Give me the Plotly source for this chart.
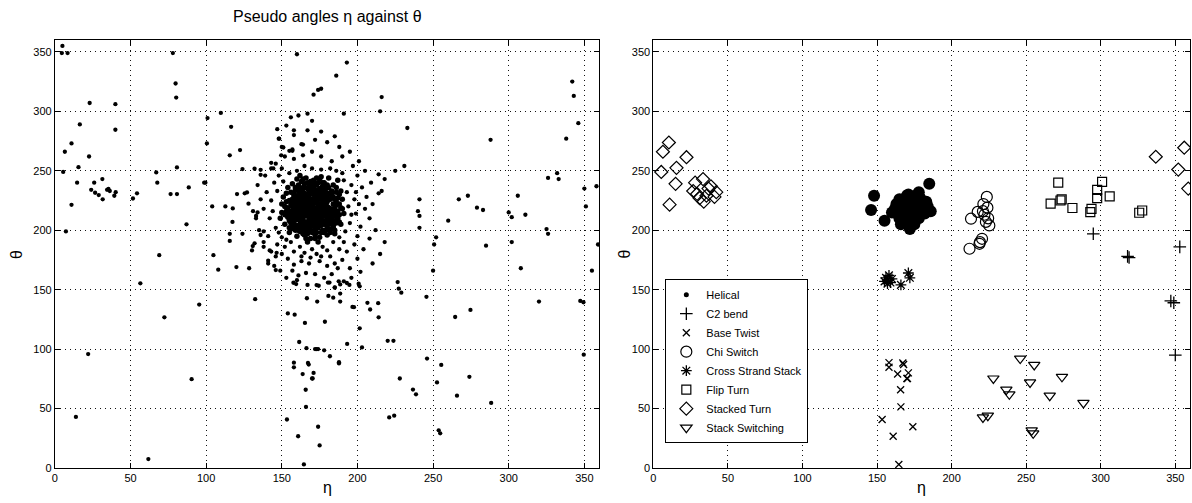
import plotly.graph_objects as go

# ---------------- data: left panel (all residues) ----------------
outer_points = [
    (5,355),(4.6,349),(8.4,349),(23,307),(40,306),(16.5,289),(40,284.5),(11,273),(6.6,266),(22.6,262),
    (15.6,253),(5.5,249),(14.7,240),(26,240),(31.4,243),(24,234),(26.6,231.5),(29,229.6),(31.6,226),
    (34.5,234),(35.4,234.8),(36.3,233),(40.2,232),(39.3,229),(11,221.4),(7.3,199),(51.6,226.7),(54.3,231),
    (67,248.6),(67.7,240),(76.5,230.4),(80.7,230.4),(78,349),(79.8,323.4),(80.2,311.6),(80.7,252.8),
    (87,205),(69,179),(88.5,236),(98.7,240),(99.5,240),(100.9,294.3),(100.5,273),(109.7,298.7),
    (116.5,287),(115.6,263),(122.4,267.4),(104,220),(112.7,220),(117.6,218.3),(117.4,207),(115.6,197),
    (115.6,191),(104.8,179),(108,166.8),(120,169),(128.4,168),(124,197),(124,251.4),(120.4,230.4),
    (125.5,231),(127,231.8),(128,222.3),(132,251.7),(136,250.8),(136,246.6),(131,216),(134,215),(133,210),
    (138,199),(136,196),(130.8,186.7),(130.3,183),(132,189),(138,186),(141,174.4),(143,182),(146.6,181),
    (146,166.5),(160,348),(161,296.5),(147,285),(148,277),(143,256.7),(144.4,252),(148.3,277),(149.6,263),
    (151,269.6),(155,266.8),(157,266.8),(163,272.4),
    (56.5,155.3),(13.9,43),(22,95.8),(61.8,7.5),(72.4,126.7),(90.4,74.7),(95.4,137.5),(132.4,142),
    (153.4,40.8),(154,130),(158.5,129),(157.7,155.8),(159.5,154.7),(158,88.6),(158,84.7),(160.8,26.7),
    (161.5,106),(163.8,79),(164.6,3),(165.3,122),(165.8,65.8),(166,51.4),(166.3,100.8),(166.6,142.8),
    (167,154),(167.3,88.3),(167.8,87),(170,75.3),(170.4,75.3),(171,80),(172,100),(173,100),(174,100),
    (173,153.9),(174.4,153.3),(173.4,140),(174,34.7),(175,19),(178,99),(178.5,123),(180.5,156),(181.5,156),
    (180.8,144.7),(181.8,94),(184,143.3),(185,151.7),(187.8,89),(187.8,88),(187.6,157),(188.6,154.4),
    (188.6,146.7),(188.6,140),(193,155.6),(194.7,154),(193.2,104.4),(196.7,135.5),(197.7,135.3),
    (200.8,155),(201.5,152.8),(201.5,117.5),(203,101.4),(206.6,138.9),(208.4,133.3),(213.7,138.6),
    (214,126.7),(220,107),(221,42.5),(223.8,107),(224.3,44),(226.6,156.4),(227.3,150.8),(229,147.5),
    (228,75.3),(236.7,66),(238.7,62),(245.6,144),(246,92),(252.6,72),(253.7,31.7),(254.7,29.2),
    (255.4,86.7),(264.6,127),(265.8,60.8),(274,76.7),(274.7,133),(288.4,54.7),(347.3,140.5),
    (349.4,139.4),(349.6,95.3),
    (193,341),(191,298),(174,318),(171,314),(167,298),(216,312),(233,286),(250,166),(241,202),
    (250.7,188),(252,194),(260,208),(240,216),(241,212),(241,226),(267,226),(288,276),(285,187),
    (302,190),(308,168),(320,140),(325,201),(326,197),(333,243),(338,277),(343,313),(342,325),
    (346,290),(350,235),(358,237),(355,166),(332,248),(351,220),(359,188),(306,229),(300,215),
    (302,211),(283,217),(273,229),(279,219),(311,213),(326,244),(214,247),(218,243),(216,233),
    (225,250),(231,254),(156,295),(158,284),(186,330),(176,319),(215,300),
]

cluster_core = [
    (168,215),(170,218),(165,212),(172,210),(163,220),(175,216),(160,214),(167,224),(171,206),(178,220),
    (162,208),(166,230),(174,228),(158,222),(180,212),(169,200),(176,204),(164,236),(173,238),(182,226),
    (156,216),(161,226),(179,232),(185,218),(155,208),(170,232),(177,212),(183,206),(159,200),(166,203),
    (171,222),(168,209),(164,217),(175,222),(162,231),(179,208),(173,214),(167,219),(170,226),(160,219),
    (157,211),(184,213),(181,219),(176,234),(169,238),(163,241),(186,224),(154,219),(178,198),(172,196),
    (165,196),(161,204),(187,210),(188,230),(152,213),(158,229),(165,226),(174,219),(167,212),(171,213),
    (177,225),(180,229),(183,233),(159,234),(155,225),(163,213),(168,205),(174,202),(166,222),(170,209),
    (162,216),(176,217),(179,215),(172,228),(168,229),(164,209),(160,209),(185,208),(182,201),(169,193),
    (175,194),(163,199),(157,203),(189,219),(186,236),(171,242),(178,240),(161,238),(156,232),(153,224),
    (166,214),(169,216),(173,217),(171,219),(168,221),(165,219),(167,217),(172,212),(175,211),(170,211),
    (163,223),(166,227),(176,230),(180,224),(184,228),(158,218),(161,221),(159,226),(164,228),(174,233),
    (177,237),(181,236),(167,235),(162,235),(170,236),(160,243),(166,244),(175,243),(181,244),(187,242),
    (190,226),(191,214),(189,205),(185,200),(180,196),(174,190),(167,190),(160,195),(155,198),(152,205),
    (150,215),(151,228),(154,236),(178,205),(181,208),(184,204),(176,207),(173,205),(167,201),(164,203),
    (161,200),(158,207),(156,212),(159,215),(162,212),(165,207),(169,203),(172,201),(177,200),(180,202),
    (183,211),(186,215),(188,222),(187,227),(184,222),(182,215),(179,218),(176,221),(173,224),(170,223),
    (167,226),(164,232),(168,232),(172,234),(176,227),(179,226),(178,231),(171,230),(165,239),(169,241),
    (173,244),(162,246),(157,239),(153,231),(150,222),(149,210),(155,202),
    (157,214),(159,212),(161,217),(163,215),(164,212),(166,216),(168,218),(169,213),(171,216),(173,211),
    (174,214),(176,213),(177,215),(179,212),(181,216),(182,218),(180,220),(178,222),(176,219),(174,222),
    (172,225),(170,221),(168,223),(166,224),(164,225),(162,223),(160,224),(158,225),(157,220),(159,220),
    (161,210),(163,206),(165,205),(167,207),(169,206),(171,208),(173,208),(175,209),(177,208),(179,205),
    (181,205),(183,208),(182,211),(180,210),(178,213),(176,210),(174,207),(172,204),(170,204),(168,202),
    (166,199),(164,201),(162,202),(160,204),(158,205),(156,206),(157,208),(159,209),(161,214),(163,218),
    (165,221),(167,222),(169,220),(171,225),(173,229),(175,226),(177,228),(179,223),(181,226),(183,229),
    (185,226),(186,221),(184,218),(183,216),(185,212),(187,216),(188,213),(186,206),(184,202),(182,198),
    (179,200),(176,198),(173,198),(170,198),(167,197),(164,197),(162,199),(160,201),(158,202),(156,201),
    (155,214),(156,222),(157,226),(158,231),(160,229),(162,228),(165,231),(167,229),(169,233),(171,235),
    (173,232),(175,235),(177,233),(179,235),(181,231),(183,231),(180,238),(177,240),(174,240),(171,239),
    (168,238),(165,236),(163,234),(161,233),(159,236),(167,240),(170,241),(164,243),(176,245),(184,238),
    (153,216),(154,211),(152,220),(186,232),(189,233),(190,218),(188,207),(185,197),(172,193),(166,193),
]

cluster_halo = [
    (145,240),(148,246),(140,232),(143,225),(138,218),(142,210),(146,202),(141,195),(147,188),(150,194),
    (152,186),(156,190),(158,182),(162,186),(165,181),(170,184),(173,180),(177,186),(180,183),(184,190),
    (188,194),(192,199),(195,206),(196,213),(194,220),(198,226),(193,232),(196,238),(191,242),(190,248),
    (186,250),(182,252),(176,251),(170,252),(165,254),(160,250),(155,248),(150,252),(146,256),(152,262),
    (158,260),(164,263),(170,266),(176,262),(183,258),(190,262),(197,254),(200,246),(203,236),(206,228),
    (205,218),(208,210),(202,203),(200,195),(198,188),(193,182),(190,175),(185,172),(180,170),(175,174),
    (168,172),(163,174),(158,171),(154,176),(150,180),(146,178),(142,183),(138,190),(135,200),(133,212),
    (136,226),(134,238),(139,246),(143,252),(187,168),(183,163),(178,160),(172,163),(166,164),(161,162),
    (157,166),(153,160),(149,166),(145,170),(141,172),(195,168),(200,176),(204,184),(208,193),(212,200),
    (210,222),(214,231),(209,240),(205,250),(201,258),(195,266),(188,270),(180,274),(172,276),(164,272),
    (157,268),(150,270),(158,280),(167,284),(176,283),(185,279),(170,292),(153,288),(210,172),(215,180),
    (218,190),(202,165),(196,160),(191,157),(185,152),(160,158),(163,178),(169,177),(176,178),(182,178),
    (188,184),(191,190),(153,192),(148,198),(144,216),(147,233),(151,241),(199,214),(201,222),(199,232),
]

# ---------------- data: right panel (classified) ----------------
helical = [(146,217),(148,229),(155,208),(170,229),(185,239),(172,201),(160,215),(163,222),(165,210),
           (167,218),(168,225),(170,213),(172,220),(174,216),(176,223),(178,210),(175,205),(166,205),
           (169,208),(171,230),(173,226),(177,217),(180,221),(182,214),(179,227),(164,215),(162,218),
           (168,212),(170,219),(174,211),(176,229),(167,220),(171,215),(165,226),(178,232),(184,220),
           (186,216),(183,224)]
c2_bend = [(295,197),(319,177),(318,178),(353,186),(347,140.5),(349,139),(350,95)]
base_twist = [(153.4,40.8),(160.8,26.7),(164.6,3),(166,51.4),(165.8,65.8),(174,34.7),(158,88.6),
              (158,84.7),(167.3,88.3),(167.8,87),(170,75.3),(170.4,75.3),(171,80),(163.8,79)]
chi_switch = [(223.6,228),(221.3,222),(224,219),(217.5,215.4),(213,209.7),(222,213),(224.5,210),
              (223,207),(225.3,204),(221,216),(220.4,192.8),(218.7,188.6),(212,184.4),(219,190)]
cross_strand = [(156,160),(157,158),(158,162),(155,157),(159,156),(166,154),(171,164),(172,160),
                (157,155),(160,159)]
flip_turn = [(271.5,240),(266.4,222.4),(273.8,226),(273,225),(281,218.7),(293,215.3),(293.8,218),
             (297.6,227),(297.6,234),(300.9,240.7),(306,228.5),(325.8,214.7),(327.8,216.6)]
stacked_turn = [(10.4,273.8),(6.4,266),(5.3,249),(15.5,252.5),(22.2,261.4),(14.9,239),(10.9,221.5),
                (28,240),(33.3,243),(26.7,233),(29.3,230.5),(31,227),(33.8,224),(37,235),(35.6,229),
                (42.2,232),(41,228),(38.6,237),(336.9,261.8),(356,269.4),(352,251),(358.7,235)]
stack_switching = [(221,42.5),(224.3,44),(228,75.3),(236.7,66),(238.7,62),(246,92),(252.6,72),
                   (253.7,31.7),(254.7,29.2),(255.4,86.7),(265.8,60.8),(274,76.7),(288.4,54.7)]

tick_vals_x = [0, 50, 100, 150, 200, 250, 300, 350]
tick_vals_y = [0, 50, 100, 150, 200, 250, 300, 350]
title_text = "Pseudo angles η against θ"

FONT = "Liberation Sans, Arial, Helvetica, sans-serif"
W, H = 1192, 503
T_M, B_M = 40, 35
PLOT_H = H - T_M - B_M

fig = go.Figure()

sparse_left = outer_points + cluster_halo
fig.add_trace(go.Scatter(
    x=[p[0] for p in sparse_left], y=[p[1] for p in sparse_left], mode="markers",
    marker=dict(size=4.3, color="black"), showlegend=False, xaxis="x", yaxis="y"))
fig.add_trace(go.Scatter(
    x=[p[0] for p in cluster_core], y=[p[1] for p in cluster_core], mode="markers",
    marker=dict(size=5.5, color="black"), showlegend=False, xaxis="x", yaxis="y"))

# helical drawn with big dots; its legend entry shows a small dot as in the reference
fig.add_trace(go.Scatter(
    x=[p[0] for p in helical], y=[p[1] for p in helical], mode="markers", name="Helical",
    marker=dict(symbol="circle", size=12, color="black"), showlegend=False,
    xaxis="x2", yaxis="y2"))
fig.add_trace(go.Scatter(
    x=[None], y=[None], mode="markers", name="Helical",
    marker=dict(symbol="circle", size=5, color="black"), xaxis="x2", yaxis="y2"))

classes = [
    ("C2 bend", c2_bend, dict(symbol="cross-thin", size=9, color="black", line=dict(width=1.3, color="black"))),
    ("Base Twist", base_twist, dict(symbol="x-thin", size=7, color="black", line=dict(width=1.3, color="black"))),
    ("Chi Switch", chi_switch, dict(symbol="circle-open", size=11, color="black", line=dict(width=1.2, color="black"))),
    ("Cross Strand Stack", cross_strand, dict(symbol="asterisk", size=9, color="black", line=dict(width=1.3, color="black"))),
    ("Flip Turn", flip_turn, dict(symbol="square-open", size=9, color="black", line=dict(width=1.2, color="black"))),
    ("Stacked Turn", stacked_turn, dict(symbol="diamond-open", size=10, color="black", line=dict(width=1.2, color="black"))),
    ("Stack Switching", stack_switching, dict(symbol="triangle-down-open", size=10, color="black", line=dict(width=1.2, color="black"))),
]
for name, pts, mk in classes:
    fig.add_trace(go.Scatter(
        x=[p[0] for p in pts], y=[p[1] for p in pts], mode="markers", name=name,
        marker=mk, xaxis="x2", yaxis="y2"))

axis_common = dict(
    range=[0, 360], tickvals=tick_vals_x, showgrid=True, gridcolor="#111", griddash="1px,4px",
    gridwidth=1, zeroline=False, showline=True, linecolor="black", linewidth=1, mirror="allticks",
    ticks="inside", ticklen=5, tickcolor="black", tickfont=dict(family=FONT, size=11, color="black"),
)

L0, L1 = 52 / W, 598 / W
R0, R1 = 652 / W, 0.9985

def ax_label(text, x, y, angle=0):
    return dict(text=text, x=x, y=y, xref="paper", yref="paper", xanchor="center",
                yanchor="middle", showarrow=False, textangle=angle,
                font=dict(family=FONT, size=16, color="black"))

fig.update_layout(
    width=W, height=H,
    margin=dict(l=0, r=0, t=T_M, b=B_M),
    paper_bgcolor="white", plot_bgcolor="white",
    font=dict(family=FONT, color="black"),
    xaxis=dict(axis_common, domain=[L0, L1], anchor="y"),
    yaxis=dict(axis_common, tickvals=tick_vals_y, domain=[0, 1], anchor="x"),
    xaxis2=dict(axis_common, domain=[R0, R1], anchor="y2"),
    yaxis2=dict(axis_common, tickvals=tick_vals_y, domain=[0, 1], anchor="x2"),
    legend=dict(x=664 / W, y=0.058, xanchor="left", yanchor="bottom",
                bgcolor="white", bordercolor="black", borderwidth=1,
                font=dict(family=FONT, size=11, color="black"), tracegroupgap=0,
                itemwidth=30),
    annotations=[
        dict(text=title_text, x=(L0 + L1) / 2, y=1, xref="paper", yref="paper",
             xanchor="center", yanchor="bottom", yshift=13, showarrow=False,
             font=dict(family=FONT, size=16, color="black")),
        ax_label("η", (L0 + L1) / 2, -19 / PLOT_H),
        ax_label("η", (R0 + R1) / 2, -19 / PLOT_H),
        ax_label("θ", 13 / W, 0.5, -90),
        ax_label("θ", 623 / W, 0.5, -90),
    ],
)

# the page body has a default 8px margin; remove it so the figure fills the window exactly
fig.write_html("out.html", config={"displayModeBar": False},
               post_script="document.body.style.margin='0px';")
